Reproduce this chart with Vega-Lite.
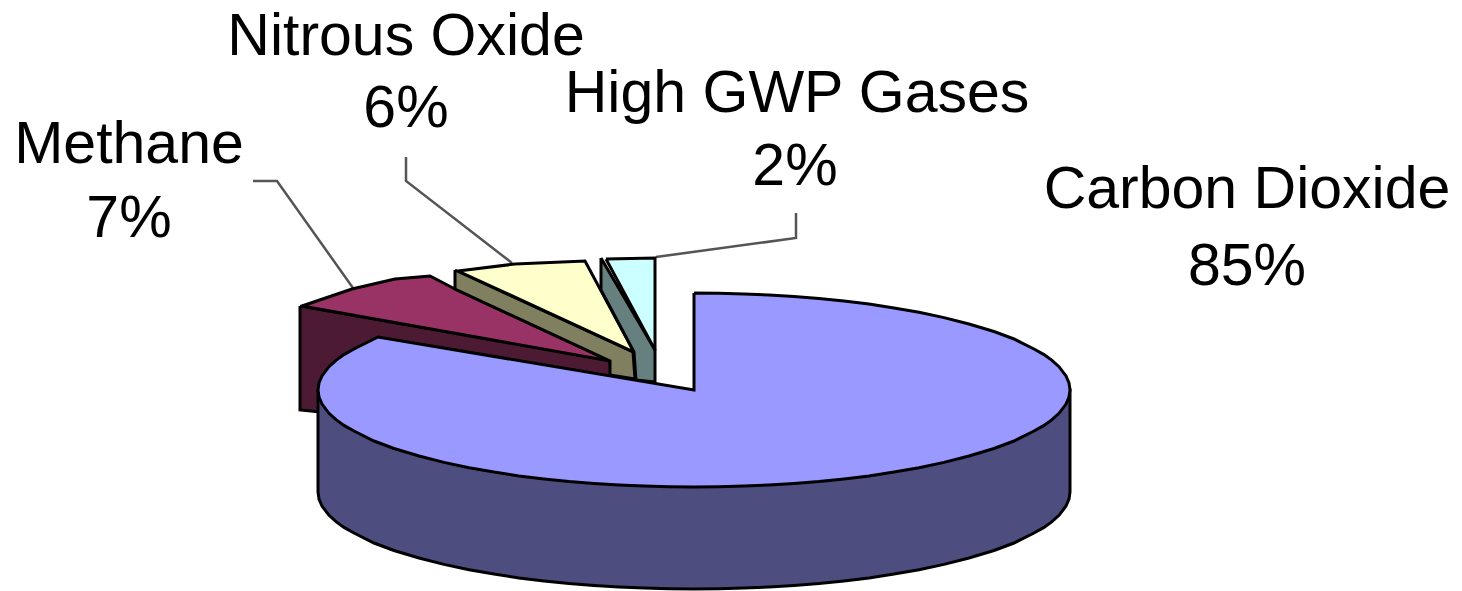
{"$schema":"https://vega.github.io/schema/vega-lite/v6.json","width":1462,"height":591,"padding":0,"autosize":"none","background":"white","config":{"view":{"stroke":null}},"datasets":{"faces":[
{"piece":"Methane side","seq":1,"x":300,"y":306},{"piece":"Methane side","seq":2,"x":610,"y":360},{"piece":"Methane side","seq":3,"x":611,"y":376},{"piece":"Methane side","seq":4,"x":400,"y":400},{"piece":"Methane side","seq":5,"x":320,"y":412},{"piece":"Methane side","seq":6,"x":300,"y":410},{"piece":"Methane side","seq":7,"x":300,"y":306},
{"piece":"Methane top","seq":1,"x":302,"y":306},{"piece":"Methane top","seq":2,"x":352,"y":289},{"piece":"Methane top","seq":3,"x":395,"y":279},{"piece":"Methane top","seq":4,"x":430,"y":276},{"piece":"Methane top","seq":5,"x":455,"y":289},{"piece":"Methane top","seq":6,"x":610,"y":361},{"piece":"Methane top","seq":7,"x":302,"y":306},
{"piece":"Nitrous side","seq":1,"x":455,"y":270},{"piece":"Nitrous side","seq":2,"x":633,"y":352},{"piece":"Nitrous side","seq":3,"x":635,"y":379},{"piece":"Nitrous side","seq":4,"x":610,"y":375},{"piece":"Nitrous side","seq":5,"x":610,"y":361},{"piece":"Nitrous side","seq":6,"x":455,"y":289},{"piece":"Nitrous side","seq":7,"x":455,"y":270},
{"piece":"Nitrous top","seq":1,"x":458,"y":271},{"piece":"Nitrous top","seq":2,"x":515,"y":264},{"piece":"Nitrous top","seq":3,"x":585,"y":261},{"piece":"Nitrous top","seq":4,"x":634,"y":352},{"piece":"Nitrous top","seq":5,"x":458,"y":271},
{"piece":"GWP side","seq":1,"x":601,"y":258},{"piece":"GWP side","seq":2,"x":655,"y":350},{"piece":"GWP side","seq":3,"x":655,"y":382},{"piece":"GWP side","seq":4,"x":636,"y":380},{"piece":"GWP side","seq":5,"x":634,"y":352},{"piece":"GWP side","seq":6,"x":601,"y":290},{"piece":"GWP side","seq":7,"x":601,"y":258},
{"piece":"GWP top","seq":1,"x":606,"y":259},{"piece":"GWP top","seq":2,"x":655,"y":258},{"piece":"GWP top","seq":3,"x":655,"y":350},{"piece":"GWP top","seq":4,"x":606,"y":259},
{"piece":"CO2 side","seq":1,"x":318,"y":390},{"piece":"CO2 side","seq":2,"x":318,"y":492},{"piece":"CO2 side","seq":3,"x":319,"y":499},{"piece":"CO2 side","seq":4,"x":322,"y":506.1},{"piece":"CO2 side","seq":5,"x":329,"y":515.3},{"piece":"CO2 side","seq":6,"x":336,"y":521.7},{"piece":"CO2 side","seq":7,"x":344,"y":527.4},{"piece":"CO2 side","seq":8,"x":354,"y":533},{"piece":"CO2 side","seq":9,"x":374,"y":543},{"piece":"CO2 side","seq":10,"x":394,"y":550.5},{"piece":"CO2 side","seq":11,"x":419,"y":558},{"piece":"CO2 side","seq":12,"x":444,"y":564.4},{"piece":"CO2 side","seq":13,"x":469,"y":569.7},{"piece":"CO2 side","seq":14,"x":494,"y":574.1},{"piece":"CO2 side","seq":15,"x":519,"y":577.9},{"piece":"CO2 side","seq":16,"x":544,"y":580.9},{"piece":"CO2 side","seq":17,"x":569,"y":583.5},{"piece":"CO2 side","seq":18,"x":594,"y":585.5},{"piece":"CO2 side","seq":19,"x":619,"y":587},{"piece":"CO2 side","seq":20,"x":644,"y":588.1},{"piece":"CO2 side","seq":21,"x":669,"y":588.8},{"piece":"CO2 side","seq":22,"x":694,"y":589},{"piece":"CO2 side","seq":23,"x":719,"y":588.8},{"piece":"CO2 side","seq":24,"x":744,"y":588.1},{"piece":"CO2 side","seq":25,"x":769,"y":587},{"piece":"CO2 side","seq":26,"x":794,"y":585.5},{"piece":"CO2 side","seq":27,"x":819,"y":583.5},{"piece":"CO2 side","seq":28,"x":844,"y":580.9},{"piece":"CO2 side","seq":29,"x":869,"y":577.9},{"piece":"CO2 side","seq":30,"x":894,"y":574.1},{"piece":"CO2 side","seq":31,"x":919,"y":569.7},{"piece":"CO2 side","seq":32,"x":944,"y":564.4},{"piece":"CO2 side","seq":33,"x":969,"y":558},{"piece":"CO2 side","seq":34,"x":994,"y":550.5},{"piece":"CO2 side","seq":35,"x":1014,"y":543},{"piece":"CO2 side","seq":36,"x":1034,"y":533},{"piece":"CO2 side","seq":37,"x":1044,"y":527.4},{"piece":"CO2 side","seq":38,"x":1052,"y":521.7},{"piece":"CO2 side","seq":39,"x":1059,"y":515.3},{"piece":"CO2 side","seq":40,"x":1066,"y":506.1},{"piece":"CO2 side","seq":41,"x":1069,"y":499},{"piece":"CO2 side","seq":42,"x":1070,"y":492},{"piece":"CO2 side","seq":43,"x":1070,"y":390},{"piece":"CO2 side","seq":44,"x":318,"y":390},
{"piece":"CO2 top","seq":1,"x":694,"y":293},{"piece":"CO2 top","seq":2,"x":719,"y":293.2},{"piece":"CO2 top","seq":3,"x":744,"y":293.9},{"piece":"CO2 top","seq":4,"x":769,"y":295},{"piece":"CO2 top","seq":5,"x":794,"y":296.5},{"piece":"CO2 top","seq":6,"x":819,"y":298.5},{"piece":"CO2 top","seq":7,"x":844,"y":301.1},{"piece":"CO2 top","seq":8,"x":869,"y":304.1},{"piece":"CO2 top","seq":9,"x":894,"y":307.9},{"piece":"CO2 top","seq":10,"x":919,"y":312.3},{"piece":"CO2 top","seq":11,"x":944,"y":317.6},{"piece":"CO2 top","seq":12,"x":969,"y":324},{"piece":"CO2 top","seq":13,"x":994,"y":331.5},{"piece":"CO2 top","seq":14,"x":1014,"y":339},{"piece":"CO2 top","seq":15,"x":1034,"y":349},{"piece":"CO2 top","seq":16,"x":1044,"y":354.6},{"piece":"CO2 top","seq":17,"x":1052,"y":360.3},{"piece":"CO2 top","seq":18,"x":1059,"y":366.7},{"piece":"CO2 top","seq":19,"x":1066,"y":375.9},{"piece":"CO2 top","seq":20,"x":1069,"y":383},{"piece":"CO2 top","seq":21,"x":1070,"y":390},{"piece":"CO2 top","seq":22,"x":1069,"y":397},{"piece":"CO2 top","seq":23,"x":1066,"y":404.1},{"piece":"CO2 top","seq":24,"x":1059,"y":413.3},{"piece":"CO2 top","seq":25,"x":1052,"y":419.7},{"piece":"CO2 top","seq":26,"x":1044,"y":425.4},{"piece":"CO2 top","seq":27,"x":1034,"y":431},{"piece":"CO2 top","seq":28,"x":1014,"y":441},{"piece":"CO2 top","seq":29,"x":994,"y":448.5},{"piece":"CO2 top","seq":30,"x":969,"y":456},{"piece":"CO2 top","seq":31,"x":944,"y":462.4},{"piece":"CO2 top","seq":32,"x":919,"y":467.7},{"piece":"CO2 top","seq":33,"x":894,"y":472.1},{"piece":"CO2 top","seq":34,"x":869,"y":475.9},{"piece":"CO2 top","seq":35,"x":844,"y":478.9},{"piece":"CO2 top","seq":36,"x":819,"y":481.5},{"piece":"CO2 top","seq":37,"x":794,"y":483.5},{"piece":"CO2 top","seq":38,"x":769,"y":485},{"piece":"CO2 top","seq":39,"x":744,"y":486.1},{"piece":"CO2 top","seq":40,"x":719,"y":486.8},{"piece":"CO2 top","seq":41,"x":694,"y":487},{"piece":"CO2 top","seq":42,"x":669,"y":486.8},{"piece":"CO2 top","seq":43,"x":644,"y":486.1},{"piece":"CO2 top","seq":44,"x":619,"y":485},{"piece":"CO2 top","seq":45,"x":594,"y":483.5},{"piece":"CO2 top","seq":46,"x":569,"y":481.5},{"piece":"CO2 top","seq":47,"x":544,"y":478.9},{"piece":"CO2 top","seq":48,"x":519,"y":475.9},{"piece":"CO2 top","seq":49,"x":494,"y":472.1},{"piece":"CO2 top","seq":50,"x":469,"y":467.7},{"piece":"CO2 top","seq":51,"x":444,"y":462.4},{"piece":"CO2 top","seq":52,"x":419,"y":456},{"piece":"CO2 top","seq":53,"x":394,"y":448.5},{"piece":"CO2 top","seq":54,"x":374,"y":441},{"piece":"CO2 top","seq":55,"x":354,"y":431},{"piece":"CO2 top","seq":56,"x":344,"y":425.4},{"piece":"CO2 top","seq":57,"x":336,"y":419.7},{"piece":"CO2 top","seq":58,"x":329,"y":413.3},{"piece":"CO2 top","seq":59,"x":322,"y":404.1},{"piece":"CO2 top","seq":60,"x":319,"y":397},{"piece":"CO2 top","seq":61,"x":318,"y":390},{"piece":"CO2 top","seq":62,"x":319,"y":383},{"piece":"CO2 top","seq":63,"x":322,"y":375.9},{"piece":"CO2 top","seq":64,"x":329,"y":366.7},{"piece":"CO2 top","seq":65,"x":336,"y":360.3},{"piece":"CO2 top","seq":66,"x":344,"y":354.6},{"piece":"CO2 top","seq":67,"x":354,"y":349},{"piece":"CO2 top","seq":68,"x":378,"y":337},{"piece":"CO2 top","seq":69,"x":694,"y":390},{"piece":"CO2 top","seq":70,"x":694,"y":293}
],"leaders":[
{"leader":"Methane","seq":1,"x":253,"y":181},{"leader":"Methane","seq":2,"x":277,"y":181},{"leader":"Methane","seq":3,"x":353,"y":288},
{"leader":"Nitrous Oxide","seq":1,"x":406,"y":157},{"leader":"Nitrous Oxide","seq":2,"x":406,"y":181},{"leader":"Nitrous Oxide","seq":3,"x":512,"y":263},
{"leader":"High GWP Gases","seq":1,"x":796,"y":213},{"leader":"High GWP Gases","seq":2,"x":796,"y":238},{"leader":"High GWP Gases","seq":3,"x":656,"y":257}
],"labels":[
{"text":"Nitrous Oxide","x":406,"y":55},{"text":"6%","x":406,"y":127},{"text":"High GWP Gases","x":797,"y":112},{"text":"2%","x":795,"y":185},{"text":"Methane","x":129,"y":163},{"text":"7%","x":129,"y":237},{"text":"Carbon Dioxide","x":1247,"y":208},{"text":"85%","x":1247,"y":285}
]},
"layer":[
{"data":{"name":"leaders"},"mark":{"type":"line","stroke":"#555555","strokeWidth":2.5,"strokeJoin":"miter"},"encoding":{"x":{"field":"x","type":"quantitative","scale":{"domain":[0,1462],"nice":false,"zero":false},"axis":null},"y":{"field":"y","type":"quantitative","scale":{"domain":[591,0],"nice":false,"zero":false},"axis":null},"detail":{"field":"leader"},"order":{"field":"seq"}}},
{"data":{"name":"faces"},"mark":{"type":"line","stroke":"#000000","strokeWidth":3,"strokeJoin":"miter"},"encoding":{"x":{"field":"x","type":"quantitative","scale":{"domain":[0,1462],"nice":false,"zero":false},"axis":null},"y":{"field":"y","type":"quantitative","scale":{"domain":[591,0],"nice":false,"zero":false},"axis":null},"fill":{"field":"piece","type":"nominal","legend":null,"scale":{"domain":["Methane side","Methane top","Nitrous side","Nitrous top","GWP side","GWP top","CO2 side","CO2 top"],"range":["#4D1A33","#993366","#808060","#FFFFCC","#668080","#CCFFFF","#4D4D80","#9999FF"]}},"order":{"field":"seq"}}},
{"data":{"name":"labels"},"mark":{"type":"text","font":"Liberation Sans","fontSize":59,"align":"center","baseline":"alphabetic","fill":"#000000"},"encoding":{"x":{"field":"x","type":"quantitative","scale":{"domain":[0,1462],"nice":false,"zero":false},"axis":null},"y":{"field":"y","type":"quantitative","scale":{"domain":[591,0],"nice":false,"zero":false},"axis":null},"text":{"field":"text"}}}
]}
